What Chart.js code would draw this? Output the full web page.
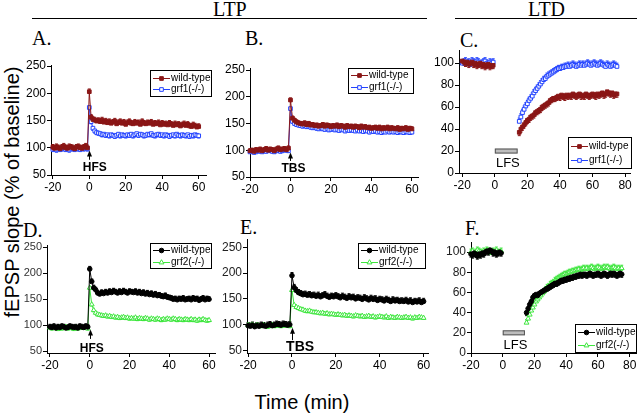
<!DOCTYPE html>
<html>
<head>
<meta charset="utf-8">
<script src="https://cdn.jsdelivr.net/npm/chart.js@4.4.1/dist/chart.umd.min.js"></script>
<style>
body { margin: 0; width: 640px; height: 414px; overflow: hidden; background: #fff; position: relative;
       font-family: "Liberation Sans", Arial, sans-serif; }
.t { position: absolute; white-space: nowrap; line-height: 1; color: #000; }
.serif { font-family: "Liberation Serif", "Times New Roman", serif; font-size: 20px; }
.rule { position: absolute; height: 0; border-top: 1.4px solid #000; }
canvas { position: absolute; }
</style>
</head>
<body>
<div class="t serif" style="left:213px;top:-1px">LTP</div>
<div class="t serif" style="left:528px;top:-1px">LTD</div>
<div class="rule" style="left:32px;top:18px;width:395px"></div>
<div class="rule" style="left:455px;top:18px;width:182px"></div>
<div class="t serif" style="left:32px;top:28px">A.</div>
<div class="t serif" style="left:245px;top:28px">B.</div>
<div class="t serif" style="left:460px;top:30px">C.</div>
<div class="t serif" style="left:23px;top:220px">D.</div>
<div class="t serif" style="left:240px;top:217px">E.</div>
<div class="t serif" style="left:465px;top:218px">F.</div>
<div class="t" style="left:12px;top:192px;font-size:20px;transform:translate(-50%,-50%) rotate(-90deg)">fEPSP slope (% of baseline)</div>
<div class="t" style="left:302px;top:392px;font-size:20px;transform:translateX(-50%)">Time (min)</div>

<script>
// time axes (min)
const ltpTime = [-20,-19,-18,-17,-16,-15,-14,-13,-12,-11,-10,-9,-8,-7,-6,-5,-4,-3,-2,-1,
  0,1,2,3,4,5,6,7,8,9,10,11,12,13,14,15,16,17,18,19,20,21,22,23,24,25,26,27,28,29,30,
  31,32,33,34,35,36,37,38,39,40,41,42,43,44,45,46,47,48,49,50,51,52,53,54,55,56,57,58,59,60];
const ltdTime = [-20,-19,-18,-17,-16,-15,-14,-13,-12,-11,-10,-9,-8,-7,-6,-5,-4,-3,-2,-1,
  15,16,17,18,19,20,21,22,23,24,25,26,27,28,29,30,31,32,33,34,35,36,37,38,39,40,41,42,43,44,45,
  46,47,48,49,50,51,52,53,54,55,56,57,58,59,60,61,62,63,64,65,66,67,68,69,70,71,72,73,74,75];

const ltpXTicks = [-20, 0, 20, 40, 60];
const ltdXTicks = [-20, 0, 20, 40, 60, 80];
const ltpYTicks = [50, 100, 150, 200, 250];
const ltdYTicks = [0, 20, 40, 60, 80, 100];

const wildName = "wild-type";
const grf1Name = "grf1(-/-)";
const grf2Name = "grf2(-/-)";

// A. LTP, HFS, grf1
const aWild = [101,99,102,100,98,101,103,100,99,102,101,100,98,101,102,100,99,101,103,100,
  203,
  156,152,151,149,150,148,151,147,149,146,
  148,145,147,149,144,146,148,145,147,143,
  146,148,145,144,147,145,146,143,148,145,
  144,146,145,147,143,145,144,146,142,145,
  143,144,142,145,143,141,144,142,143,140,
  142,144,141,143,140,139,142,140,138,139];
const aGrf1 = [97,98,96,99,97,98,100,97,98,96,99,98,97,99,98,97,99,98,100,98,
  174,
  148,136,131,128,127,126,124,125,123,124,
  122,124,123,121,123,125,122,124,123,122,
  124,123,125,122,124,126,123,125,124,122,
  123,125,124,126,123,122,124,125,123,124,
  122,124,123,121,123,124,122,125,123,122,
  124,123,122,124,121,123,122,124,123,122];

// B. LTP, TBS, grf1
const bWild = [99,100,98,101,100,102,99,101,103,100,102,101,99,102,104,101,102,103,101,104,
  194,
  160,156,153,151,150,149,151,148,150,147,
  148,146,147,145,146,148,145,147,146,144,
  146,145,147,144,146,145,143,146,144,145,
  143,145,144,142,145,143,144,142,143,141,
  142,143,141,143,140,142,141,143,140,142,
  141,140,142,139,141,140,142,139,141,140];
const bGrf1 = [97,98,96,97,99,98,97,99,98,100,99,98,97,99,100,98,99,101,100,99,
  178,
  154,150,148,147,146,145,146,144,145,143,
  142,143,141,140,142,140,139,141,138,139,
  140,138,139,137,139,138,136,138,137,138,
  137,136,138,136,137,135,137,136,134,136,
  135,136,134,135,133,135,134,136,134,135,
  134,135,133,135,134,133,135,134,133,134];

// C. LTD, LFS, grf1
const cWild = [102,101,100,101,99,100,101,99,100,98,99,100,98,99,97,98,99,97,98,98,
  37,40,42,44,46,48,49,51,52,53,
  55,56,57,58,60,61,62,63,64,66,
  67,68,68,69,70,69,71,70,69,71,
  70,71,70,72,71,70,71,72,70,71,
  70,72,71,70,71,72,71,70,72,71,
  72,73,71,72,74,73,72,73,71,72,
  72];
const cGrf1 = [100,101,102,100,101,99,102,101,100,102,101,99,100,101,102,100,99,101,100,101,
  47,51,55,58,61,63,66,68,70,73,
  75,77,79,81,83,85,86,88,89,90,
  91,92,93,94,95,95,96,96,97,97,
  98,97,98,99,98,97,98,99,98,99,
  98,99,100,99,98,99,100,99,98,99,
  100,99,98,97,99,98,97,98,99,98,
  97];

// D. LTP, HFS, grf2
const dWild = [97,96,98,95,97,96,98,97,95,96,98,97,96,97,95,98,97,96,98,97,
  208,
  184,172,168,162,160,163,161,164,162,165,
  163,166,164,162,165,163,166,164,162,165,
  164,163,165,162,164,161,163,160,162,159,
  161,158,160,157,158,156,155,157,154,153,
  152,150,151,149,151,150,152,149,150,151,
  149,152,150,151,148,150,152,149,151,150];
const dGrf2 = [96,94,97,95,93,96,94,95,97,94,96,95,93,96,94,95,97,95,96,94,
  172,
  140,129,124,121,120,119,118,119,117,118,
  116,117,115,116,114,115,116,114,115,113,
  114,113,115,112,114,113,112,114,113,111,
  113,112,111,113,112,110,112,111,113,112,
  111,113,112,110,112,111,110,112,111,110,
  112,110,111,109,111,110,112,110,109,110];

// E. LTP, TBS, grf2
const eWild = [98,97,99,96,98,97,99,98,97,99,100,98,99,101,100,99,101,100,99,100,
  195,
  172,166,162,160,158,159,157,158,156,157,
  155,157,154,156,158,155,153,155,154,156,
  154,152,155,153,151,154,152,153,150,152,
  151,149,152,150,148,151,149,150,147,149,
  148,146,149,147,145,148,146,147,145,146,
  145,147,144,146,143,145,144,146,143,145];
const eGrf2 = [99,98,100,97,99,98,97,99,98,96,98,99,97,98,99,97,98,99,98,97,
  167,
  138,134,132,130,129,127,126,127,125,124,
  124,123,122,123,121,122,120,121,120,119,
  120,119,118,119,117,118,117,116,118,117,
  116,117,115,116,117,115,116,114,115,116,
  115,114,116,113,115,114,113,115,114,113,
  114,115,113,114,112,114,113,115,114,113];

// F. LTD, LFS, grf2
const fWild = [98,97,99,98,96,98,97,99,98,100,101,100,102,101,99,100,98,99,100,99,
  40,44,48,51,55,57,58,57,59,60,
  61,62,63,64,65,66,67,68,69,69,
  70,71,72,72,73,73,74,74,75,75,
  76,76,77,77,78,77,78,78,77,78,
  79,78,77,78,78,79,78,77,78,79,
  78,77,78,79,78,79,78,77,78,79,
  78];
const fGrf2 = [100,101,99,100,102,101,100,99,101,100,102,101,100,99,101,100,102,100,99,101,
  30,34,38,42,45,48,51,53,55,57,
  59,61,63,65,66,68,69,70,72,73,
  74,75,76,77,78,78,79,80,80,81,
  81,82,82,83,82,83,84,83,84,83,
  84,85,84,83,84,85,84,83,84,85,
  84,85,84,83,84,85,84,83,84,83,
  84];

const SANS = '"Liberation Sans", Arial, sans-serif';
const NARROW = '"Liberation Sans Narrow", "Arial Narrow", "Liberation Sans", sans-serif';

const STYLES = {
  red:   { color: "#8a1616", fill: "#8a1616", shape: "rect", r: 2.6 },
  blue:  { color: "#2343ff", fill: "#ffffff", shape: "rect", r: 2.6 },
  black: { color: "#000000", fill: "#000000", shape: "circle", r: 2.3 },
  green: { color: "#3ee63e", fill: "#ffffff", shape: "triangle", r: 2.8 }
};

function drawMark(ctx, st, x, y) {
  ctx.save();
  ctx.fillStyle = st.fill; ctx.strokeStyle = st.color; ctx.lineWidth = 1;
  ctx.beginPath();
  if (st.shape === "rect") {
    const s = st.r * Math.SQRT1_2;
    ctx.rect(x - s, y - s, 2 * s, 2 * s);
  } else if (st.shape === "circle") {
    ctx.arc(x, y, st.r, 0, Math.PI * 2);
  } else {
    ctx.moveTo(x, y - st.r);
    ctx.lineTo(x + st.r * 0.87, y + st.r * 0.5);
    ctx.lineTo(x - st.r * 0.87, y + st.r * 0.5);
    ctx.closePath();
  }
  ctx.fill(); ctx.stroke();
  ctx.restore();
}

// SEM-like bars, drawn under the markers
const errorBars = {
  id: "errorBars",
  beforeDatasetsDraw(chart) {
    const ys = chart.scales.y, ctx = chart.ctx;
    chart.data.datasets.forEach((ds, i) => {
      if (!ds.err) return;
      const meta = chart.getDatasetMeta(i);
      ctx.save();
      ctx.strokeStyle = ds.borderColor; ctx.lineWidth = 1;
      meta.data.forEach((pt, j) => {
        const y2 = ys.getPixelForValue(ds.data[j].y + ds.err);
        ctx.beginPath();
        ctx.moveTo(pt.x, pt.y); ctx.lineTo(pt.x, y2);
        ctx.moveTo(pt.x - 1.5, y2); ctx.lineTo(pt.x + 1.5, y2);
        ctx.stroke();
      });
      ctx.restore();
    });
  }
};

// stimulus markers: arrows, LFS bars, labels
const panelNotes = {
  id: "panelNotes",
  afterDatasetsDraw(chart, args, opts) {
    const xs = chart.scales.x, ys = chart.scales.y, ctx = chart.ctx;
    ctx.save();
    (opts.items || []).forEach(n => {
      if (n.kind === "arrow") {
        const x = Math.round(xs.getPixelForValue(n.x)) + 0.5;
        const y1 = ys.getPixelForValue(n.from), y2 = ys.getPixelForValue(n.to);
        ctx.strokeStyle = "#000"; ctx.fillStyle = "#000"; ctx.lineWidth = 1;
        ctx.beginPath(); ctx.moveTo(x, y1); ctx.lineTo(x, y2 + 3); ctx.stroke();
        ctx.beginPath(); ctx.moveTo(x, y2); ctx.lineTo(x + 2.5, y2 + 6); ctx.lineTo(x - 2.5, y2 + 6);
        ctx.closePath(); ctx.fill();
      } else if (n.kind === "bar") {
        const x0 = xs.getPixelForValue(n.x0), x1 = xs.getPixelForValue(n.x1);
        const y = ys.getPixelForValue(n.y);
        ctx.fillStyle = "#bdbdbd"; ctx.strokeStyle = "#555"; ctx.lineWidth = 1;
        ctx.fillRect(x0, y - n.h / 2, x1 - x0, n.h);
        ctx.strokeRect(x0 + 0.5, y - n.h / 2 + 0.5, x1 - x0 - 1, n.h - 1);
      } else if (n.kind === "text") {
        ctx.fillStyle = "#000";
        ctx.font = (n.bold ? "bold " : "") + n.size + "px " + (n.narrow ? NARROW : SANS);
        ctx.textAlign = "center"; ctx.textBaseline = "middle";
        ctx.fillText(n.text, xs.getPixelForValue(n.x), ys.getPixelForValue(n.y));
      }
    });
    ctx.restore();
  }
};

// boxed legend placed inside the plot
const boxLegend = {
  id: "boxLegend",
  afterDraw(chart, args, opts) {
    if (!opts.box) return;
    const ctx = chart.ctx, b = opts.box;
    ctx.save();
    ctx.fillStyle = "#fff"; ctx.fillRect(b.x, b.y, b.w, b.h);
    ctx.strokeStyle = "#000"; ctx.lineWidth = 1;
    ctx.strokeRect(b.x + 0.5, b.y + 0.5, b.w - 1, b.h - 1);
    chart.data.datasets.forEach((ds, i) => {
      const y = Math.round(b.y + b.h * (i === 0 ? 0.28 : 0.72)) + 0.5;
      ctx.strokeStyle = ds.borderColor; ctx.lineWidth = 1;
      ctx.beginPath(); ctx.moveTo(b.x + 3, y); ctx.lineTo(b.x + 20, y); ctx.stroke();
      drawMark(ctx, ds.mark, b.x + 11.5, y);
      ctx.fillStyle = "#000";
      ctx.font = "10px " + SANS; ctx.textAlign = "left"; ctx.textBaseline = "middle";
      ctx.fillText(ds.label, b.x + 21, y);
    });
    ctx.restore();
  }
};

function series(label, time, values, st, err) {
  return {
    label: label, mark: st, err: err,
    data: time.map((t, i) => ({ x: t, y: values[i] })),
    borderColor: st.color, borderWidth: 1,
    pointStyle: st.shape, pointRadius: st.r, pointBorderWidth: 1,
    pointBackgroundColor: st.fill, pointBorderColor: st.color,
    clip: 8,
    segment: { borderColor: c => (c.p1.parsed.x - c.p0.parsed.x > 5 ? "rgba(0,0,0,0)" : undefined) }
  };
}

function makePanel(p) {
  const yw = 36, xh = 24, padTop = 12, padRight = 14;
  const left = p.L - yw, top = p.T - padTop;
  const cv = document.createElement("canvas");
  cv.width = yw + (p.R - p.L) + padRight;
  cv.height = padTop + (p.B - p.T) + xh;
  cv.style.left = left + "px";
  cv.style.top = top + "px";
  document.body.appendChild(cv);
  const lg = p.legend;
  const axisGrid = { display: true, drawOnChartArea: false, drawTicks: true, tickLength: 4, color: "#000" };
  new Chart(cv.getContext("2d"), {
    type: "line",
    data: { datasets: p.datasets },
    plugins: [errorBars, panelNotes, boxLegend],
    options: {
      responsive: false, animation: false, events: [],
      layout: { padding: { top: padTop, right: padRight, left: 0, bottom: 0 } },
      plugins: {
        legend: { display: false }, tooltip: { enabled: false },
        panelNotes: { items: p.notes },
        boxLegend: { box: { x: lg.x - left, y: lg.y - top, w: lg.w, h: lg.h } }
      },
      scales: {
        x: {
          type: "linear", min: p.xMin, max: p.xMax,
          afterBuildTicks: a => { a.ticks = p.xTicks.map(v => ({ value: v })); },
          afterFit: a => { a.height = xh; },
          grid: axisGrid, border: { display: true, color: "#000", width: 1 },
          ticks: { color: "#000", padding: 1, maxRotation: 0, autoSkip: false, font: { family: SANS, size: 12 } }
        },
        y: {
          type: "linear", min: p.yMin, max: p.yMax,
          afterBuildTicks: a => { a.ticks = p.yTicks.map(v => ({ value: v })); },
          afterFit: a => { a.width = yw; },
          grid: axisGrid, border: { display: true, color: "#000", width: 1 },
          ticks: { color: p.yTickColor || "#000", padding: 1, autoSkip: false, font: { family: SANS, size: p.yTickSize || 12 } }
        }
      }
    }
  });
}

makePanel({
  L: 51, R: 206, T: 65, B: 175, xMin: -21, xMax: 64, yMin: 50, yMax: 252,
  xTicks: ltpXTicks, yTicks: ltpYTicks,
  datasets: [series(wildName, ltpTime, aWild, STYLES.red, 5), series(grf1Name, ltpTime, aGrf1, STYLES.blue, -4)],
  legend: { x: 150, y: 70, w: 62, h: 27 },
  notes: [{ kind: "arrow", x: 0, from: 78, to: 95 }, { kind: "text", x: 3, y: 64, text: "HFS", bold: true, size: 12 }]
});
makePanel({
  L: 250, R: 418, T: 68, B: 177, xMin: -20, xMax: 63, yMin: 50, yMax: 254,
  xTicks: ltpXTicks, yTicks: ltpYTicks,
  datasets: [series(wildName, ltpTime, bWild, STYLES.red, 4), series(grf1Name, ltpTime, bGrf1, STYLES.blue, -3)],
  legend: { x: 348, y: 68, w: 66, h: 26 },
  notes: [{ kind: "arrow", x: 0, from: 80, to: 96 }, { kind: "text", x: 1.5, y: 66, text: "TBS", bold: true, size: 12 }]
});
makePanel({
  L: 459, R: 630, T: 50, B: 173, xMin: -22, xMax: 83, yMin: 0, yMax: 112,
  xTicks: ltdXTicks, yTicks: ltdYTicks,
  datasets: [series(wildName, ltdTime, cWild, STYLES.red, -3), series(grf1Name, ltdTime, cGrf1, STYLES.blue, 3)],
  legend: { x: 568, y: 137, w: 64, h: 32 },
  notes: [{ kind: "bar", x0: 0, x1: 14, y: 20, h: 5 }, { kind: "text", x: 8, y: 9, text: "LFS", size: 13, narrow: true }]
});
makePanel({
  L: 47, R: 215, T: 245, B: 353, xMin: -21.5, xMax: 63, yMin: 47, yMax: 254,
  xTicks: ltpXTicks, yTicks: ltpYTicks, yTickSize: 11, yTickColor: "#333",
  datasets: [series(wildName, ltpTime, dWild, STYLES.black, 5), series(grf2Name, ltpTime, dGrf2, STYLES.green, -3)],
  legend: { x: 150, y: 243, w: 62, h: 26 },
  notes: [{ kind: "arrow", x: 0, from: 74, to: 92 }, { kind: "text", x: 1, y: 56, text: "HFS", bold: true, size: 12 }]
});
makePanel({
  L: 247, R: 428, T: 239, B: 353, xMin: -20.5, xMax: 62, yMin: 45, yMax: 266,
  xTicks: ltpXTicks, yTicks: ltpYTicks, yTickSize: 12, yTickColor: "#222",
  datasets: [series(wildName, ltpTime, eWild, STYLES.black, 6), series(grf2Name, ltpTime, eGrf2, STYLES.green, -3)],
  legend: { x: 358, y: 243, w: 68, h: 26 },
  notes: [{ kind: "arrow", x: 0, from: 70, to: 94 }, { kind: "text", x: 3.7, y: 56, text: "TBS", bold: true, size: 14 }]
});
makePanel({
  L: 471, R: 636, T: 242, B: 353, xMin: -20, xMax: 84, yMin: 0, yMax: 110,
  xTicks: ltdXTicks, yTicks: ltdYTicks, yTickColor: "#222",
  datasets: [series(grf2Name, ltdTime, fGrf2, STYLES.green, 3), series(wildName, ltdTime, fWild, STYLES.black, -3)].reverse(),
  legend: { x: 575, y: 324, w: 62, h: 29 },
  notes: [{ kind: "bar", x0: 0, x1: 14, y: 20, h: 5 }, { kind: "text", x: 8, y: 8, text: "LFS", size: 13, narrow: true }]
});
</script>
</body>
</html>
